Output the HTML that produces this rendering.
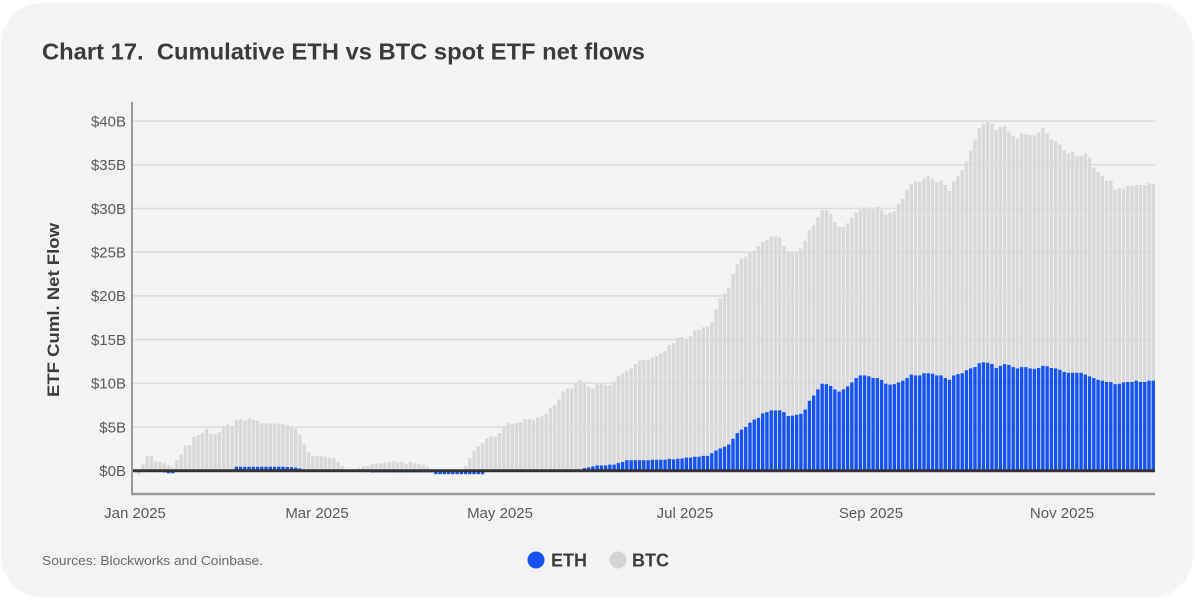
<!DOCTYPE html>
<html>
<head>
<meta charset="utf-8">
<style>
html,body{margin:0;padding:0;background:#ffffff;}
svg{display:block;}
text{font-family:"Liberation Sans", Arial, sans-serif;}
</style>
</head>
<body>
<svg id="chart" width="1195" height="600" viewBox="0 0 1195 600" xmlns="http://www.w3.org/2000/svg">
  <rect x="1" y="3" width="1192" height="594" rx="40" ry="40" fill="#f4f4f4"/>
  <text x="42" y="59.5" font-size="23" font-weight="bold" fill="#3b3b3f" textLength="603" lengthAdjust="spacingAndGlyphs" xml:space="preserve">Chart 17.  Cumulative ETH vs BTC spot ETF net flows</text>

  <g id="grid" stroke="#dcdcdc" stroke-width="1.6"></g>
  <g id="ylabels" font-size="15" fill="#5a5a5a" text-anchor="end"></g>
  <g id="bars"></g>

  <line x1="132" y1="470.7" x2="1155" y2="470.7" stroke="#333336" stroke-width="3"/>
  <line x1="132" y1="102" x2="132" y2="494" stroke="#9a9a9a" stroke-width="2"/>
  <line x1="131" y1="494" x2="1155" y2="494" stroke="#9a9a9a" stroke-width="2.5"/>

  <text transform="translate(59,310) rotate(-90)" text-anchor="middle" font-size="16.5" font-weight="bold" fill="#3b3b3f" textLength="174" lengthAdjust="spacingAndGlyphs">ETF Cuml. Net Flow</text>

  <g font-size="15" fill="#5a5a5a" text-anchor="middle">
    <text x="135" y="518">Jan 2025</text>
    <text x="317" y="518">Mar 2025</text>
    <text x="500" y="518">May 2025</text>
    <text x="685" y="518">Jul 2025</text>
    <text x="871" y="518">Sep 2025</text>
    <text x="1062" y="518">Nov 2025</text>
  </g>

  <text x="42" y="565" font-size="13" fill="#6a6a6a" textLength="221" lengthAdjust="spacingAndGlyphs">Sources: Blockworks and Coinbase.</text>

  <circle cx="536" cy="560" r="8.5" fill="#1652f0"/>
  <text x="551" y="566.5" font-size="18" font-weight="bold" fill="#3b3b3f">ETH</text>
  <circle cx="618" cy="560" r="8.5" fill="#d4d4d6"/>
  <text x="632" y="566.5" font-size="18" font-weight="bold" fill="#3b3b3f">BTC</text>
</svg>
<script>
(function(){
  var NS="http://www.w3.org/2000/svg";
  var Y0=470.7, K=8.74;
  var grid=document.getElementById('grid');
  var yl=document.getElementById('ylabels');
  for(var v=5; v<=40; v+=5){
    var y=Y0-v*K;
    var l=document.createElementNS(NS,'line');
    l.setAttribute('x1',133);l.setAttribute('x2',1155);
    l.setAttribute('y1',y);l.setAttribute('y2',y);
    grid.appendChild(l);
  }
  for(var v=0; v<=40; v+=5){
    var y=Y0-v*K;
    var t=document.createElementNS(NS,'text');
    t.setAttribute('x',126);t.setAttribute('y',y+5.3);
    t.textContent='$'+v+'B';
    yl.appendChild(t);
  }
  var btc=[-0.45,0.7,1.7,1.7,1.05,1.05,0.9,0.65,0.4,1.2,
  1.85,2.9,2.9,3.9,4.1,4.3,4.8,4.2,4.2,4.4,
  5.0,5.3,5.15,5.8,5.9,5.75,6.0,5.8,5.7,5.4,
  5.4,5.4,5.4,5.4,5.3,5.2,4.9,4.8,4.1,3.0,
  2.1,1.7,1.7,1.7,1.6,1.5,1.45,1.0,0.55,0.05,
  0.02,0.02,0.3,0.55,0.55,0.75,0.8,0.87,0.9,1.0,
  1.1,1.0,1.0,0.75,1.0,0.87,0.8,0.7,0.45,0.2,
  0,0,0,0,0,0,0,0.55,1.45,2.3,
  2.8,3.15,3.7,3.95,3.85,4.3,4.9,5.45,5.35,5.45,
  5.55,5.9,5.9,5.8,6.1,6.25,6.5,7.15,7.5,8.15,
  9.1,9.4,9.4,9.9,10.4,10.15,9.6,9.4,9.9,10.0,
  9.8,9.8,10.15,10.85,11.15,11.4,11.7,12.2,12.6,12.7,
  12.7,12.9,13.1,13.4,13.7,14.4,14.6,15.2,15.3,15.1,
  15.4,16.1,16.1,16.4,16.5,17.0,18.5,19.7,20.3,20.9,
  22.5,23.6,24.3,24.5,24.9,25.2,25.7,26.2,26.4,26.8,
  26.8,26.7,25.7,25.0,24.9,25.0,25.4,26.3,27.5,28.1,
  29.0,29.8,29.8,29.4,28.4,27.9,27.9,28.3,28.9,29.5,
  29.85,30.1,29.85,29.9,30.2,29.8,29.3,29.5,29.65,30.5,
  31.1,32.2,32.8,33.1,33.05,33.4,33.7,33.35,33.0,33.2,
  32.7,32.0,33.1,33.7,34.4,35.4,36.6,37.9,39.2,39.7,
  39.9,39.7,39.0,39.35,39.4,38.8,38.3,38.0,38.6,38.5,
  38.4,38.4,38.7,39.2,38.6,37.9,37.7,37.3,36.6,36.3,
  36.5,36.0,36.0,36.3,35.8,34.7,34.2,33.7,33.2,33.2,
  32.1,32.3,32.3,32.6,32.6,32.7,32.7,32.7,32.9,32.8];
  var eth=[0,0,0,0,-0.1,-0.15,-0.2,-0.3,-0.3,-0.1,
  0.02,0.02,0.02,0.02,0.02,0.02,0.02,0.02,0.02,0.02,
  0.02,0.02,0.02,0.45,0.45,0.45,0.45,0.45,0.45,0.45,
  0.45,0.45,0.45,0.45,0.45,0.42,0.4,0.35,0.25,0.12,
  0.05,0,0,0,0,0,0,0,0,0,
  0,-0.1,-0.1,-0.15,-0.15,-0.2,-0.2,-0.2,-0.2,-0.2,
  -0.2,-0.2,-0.2,-0.2,-0.2,-0.2,-0.2,-0.2,-0.2,-0.2,
  -0.4,-0.4,-0.4,-0.4,-0.4,-0.4,-0.4,-0.4,-0.4,-0.4,
  -0.4,-0.4,-0.05,-0.05,-0.05,-0.05,-0.05,-0.05,-0.05,-0.05,
  -0.05,-0.05,-0.05,-0.05,-0.05,-0.05,-0.05,-0.05,-0.05,-0.05,
  -0.05,-0.05,-0.05,-0.05,-0.05,0.3,0.38,0.5,0.6,0.6,
  0.6,0.7,0.7,0.87,1.0,1.2,1.2,1.2,1.2,1.2,
  1.2,1.25,1.25,1.25,1.26,1.35,1.3,1.37,1.4,1.5,
  1.5,1.6,1.6,1.7,1.7,2.0,2.3,2.55,2.75,3.0,
  3.65,4.3,4.7,5.0,5.5,5.85,6.05,6.55,6.7,6.9,
  6.9,6.9,6.7,6.25,6.3,6.4,6.5,7.0,8.0,8.6,
  9.3,9.95,9.9,9.7,9.3,9.05,9.3,9.65,10.1,10.6,
  10.9,10.9,10.8,10.6,10.6,10.4,9.95,9.85,9.9,10.1,
  10.3,10.6,11.0,10.9,10.9,11.15,11.15,11.1,10.9,10.9,
  10.6,10.4,10.9,11.05,11.15,11.5,11.7,11.85,12.3,12.4,
  12.35,12.2,11.75,12.0,12.2,12.1,11.85,11.7,11.85,11.85,
  11.7,11.65,11.75,12.0,11.95,11.75,11.7,11.55,11.3,11.2,
  11.2,11.2,11.2,11.0,10.8,10.6,10.4,10.3,10.15,10.15,
  9.9,9.95,10.1,10.15,10.15,10.3,10.15,10.15,10.3,10.3];
  var g=document.getElementById('bars');
  var X0=137, P=4.245, W=3.4;
  function bar(i,v,fill){
    if(Math.abs(v)<0.005) return;
    var x=X0+i*P;
    var h=Math.abs(v)*K;
    var y=v>=0?Y0-h:Y0;
    var r=document.createElementNS(NS,'rect');
    r.setAttribute('x',x.toFixed(2));r.setAttribute('y',y.toFixed(2));
    r.setAttribute('width',W);r.setAttribute('height',h.toFixed(2));
    r.setAttribute('fill',fill);
    g.appendChild(r);
  }
  for(var i=0;i<btc.length;i++) bar(i,btc[i],'#d9d9dc');
  for(var i=0;i<eth.length;i++) bar(i,eth[i],'#1652f0');
})();
</script>
</body>
</html>
